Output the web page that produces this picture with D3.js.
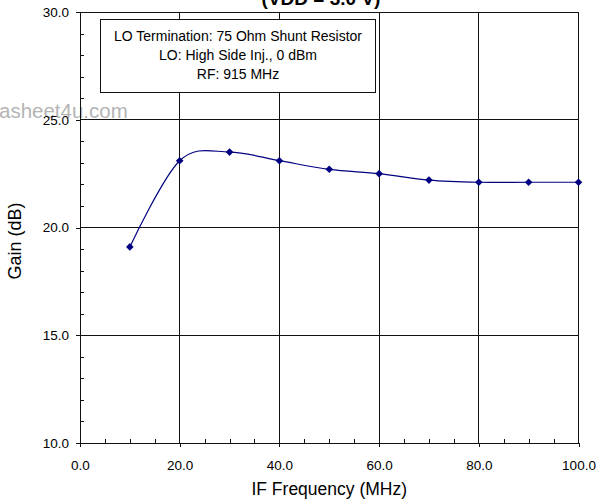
<!DOCTYPE html>
<html>
<head>
<meta charset="utf-8">
<script src="https://cdn.jsdelivr.net/npm/d3@7"></script>
<style>
  html, body { margin: 0; padding: 0; background: #fff; }
  svg { display: block; font-family: "Liberation Sans", Arial, Helvetica, sans-serif; }
</style>
</head>
<body>
<svg id="chart" width="597" height="501"></svg>
<script>
// IF frequency sweep (MHz) and measured conversion gain (dB)
const ifFreq = [10, 20, 30, 40, 50, 60, 70, 80, 90, 100];
const gainDb = [19.1, 23.1, 23.5, 23.1, 22.7, 22.5, 22.2, 22.1, 22.1, 22.1];

// Axis ticks
const xMajor = [0, 20, 40, 60, 80, 100];
const xMinor = [5, 10, 15, 25, 30, 35, 45, 50, 55, 65, 70, 75, 85, 90, 95];
const yMajor = [10, 15, 20, 25, 30];
const yMinor = [11, 12, 13, 14, 16, 17, 18, 19, 21, 22, 23, 24, 26, 27, 28, 29];

const titleText = "(VDD = 3.0 V)";
const noteLines = ["LO Termination: 75 Ohm Shunt Resistor", "LO: High Side Inj., 0 dBm", "RF: 915 MHz"];
const xTitle = "IF Frequency (MHz)";
const yTitle = "Gain (dB)";
const watermark = "asheet4u.com";

const svg = d3.select("#chart");
const W = 597, H = 501;
const m = { left: 80, right: 18.5, top: 12, bottom: 58 };
const pw = W - m.left - m.right, ph = H - m.top - m.bottom;

const x = d3.scaleLinear().domain([0, 100]).range([m.left, m.left + pw]);
const y = d3.scaleLinear().domain([10, 30]).range([m.top + ph, m.top]);

const fmt = d3.format(".1f");
const ink = "#111";

// Gridlines
const grid = svg.append("g").attr("shape-rendering", "crispEdges");
grid.selectAll("line.vx").data(xMajor.slice(1)).join("line")
  .attr("x1", d => x(d)).attr("x2", d => x(d))
  .attr("y1", y(10)).attr("y2", y(30))
  .attr("stroke", ink).attr("stroke-width", 1);
grid.selectAll("line.hy").data(yMajor.slice(1)).join("line")
  .attr("x1", x(0)).attr("x2", x(100))
  .attr("y1", d => y(d)).attr("y2", d => y(d))
  .attr("stroke", ink).attr("stroke-width", 1);

// Watermark
svg.append("text").attr("x", -1).attr("y", 118)
  .attr("font-size", 20.5).attr("fill", "#b4b4b4").text(watermark);

// Axes: major ticks outside with labels, minor ticks inside
const xAxis = svg.append("g").attr("transform", `translate(0,${y(10)})`)
  .call(d3.axisBottom(x).tickValues(xMajor).tickFormat(fmt).tickSize(4).tickSizeOuter(0).tickPadding(13));
const xAxisMinor = svg.append("g").attr("transform", `translate(0,${y(10)})`)
  .call(d3.axisBottom(x).tickValues(xMinor).tickFormat("").tickSize(-4).tickSizeOuter(0));
const yAxis = svg.append("g").attr("transform", `translate(${x(0)},0)`)
  .call(d3.axisLeft(y).tickValues(yMajor).tickFormat(fmt).tickSize(4).tickSizeOuter(0).tickPadding(7));
const yAxisMinor = svg.append("g").attr("transform", `translate(${x(0)},0)`)
  .call(d3.axisLeft(y).tickValues(yMinor).tickFormat("").tickSize(-4).tickSizeOuter(0));

[xAxis, xAxisMinor, yAxis, yAxisMinor].forEach(g => {
  g.attr("shape-rendering", "crispEdges");
  g.selectAll("path.domain").attr("stroke", ink);
  g.selectAll(".tick line").attr("stroke", ink);
  g.selectAll(".tick text").attr("font-size", 13.5).attr("fill", "#000")
    .attr("font-family", "'Liberation Sans', Arial, sans-serif");
});

// Plot frame: top and right edges
svg.append("path").attr("shape-rendering", "crispEdges")
  .attr("d", `M${x(0)},${y(30)}H${x(100)}V${y(10)}`)
  .attr("fill", "none").attr("stroke", ink);

// Smoothed gain curve
const pts = ifFreq.map((f, i) => [f, gainDb[i]]);
svg.append("path").datum(pts)
  .attr("d", d3.line().x(d => x(d[0])).y(d => y(d[1])).curve(d3.curveCatmullRom.alpha(0)))
  .attr("fill", "none").attr("stroke", "#000080").attr("stroke-width", 1.2);

// Diamond markers
const r = 3.8;
svg.append("g").selectAll("path").data(pts).join("path")
  .attr("transform", d => `translate(${x(d[0])},${y(d[1])})`)
  .attr("d", `M0,${-r}L${r},0L0,${r}L${-r},0Z`)
  .attr("fill", "#000080");

// Condition note box
const box = svg.append("g");
box.append("rect").attr("x", 100.5).attr("y", 19.5).attr("width", 275).attr("height", 73)
  .attr("fill", "#fff").attr("stroke", ink).attr("shape-rendering", "crispEdges");
box.selectAll("text").data(noteLines).join("text")
  .attr("x", 238).attr("y", (d, i) => 41 + i * 19)
  .attr("text-anchor", "middle").attr("font-size", 14).attr("fill", "#000")
  .text(d => d);

// Title (partially above the top edge)
svg.append("text").attr("x", 321).attr("y", 5)
  .attr("text-anchor", "middle").attr("font-size", 19).attr("font-weight", "bold")
  .attr("fill", "#000").text(titleText);

// Axis titles
svg.append("text").attr("x", x(50)).attr("y", 495)
  .attr("text-anchor", "middle").attr("font-size", 17.5).attr("fill", "#000").text(xTitle);
svg.append("text").attr("transform", "translate(21,241) rotate(-90)")
  .attr("text-anchor", "middle").attr("font-size", 18).attr("fill", "#000").text(yTitle);
</script>
</body>
</html>
